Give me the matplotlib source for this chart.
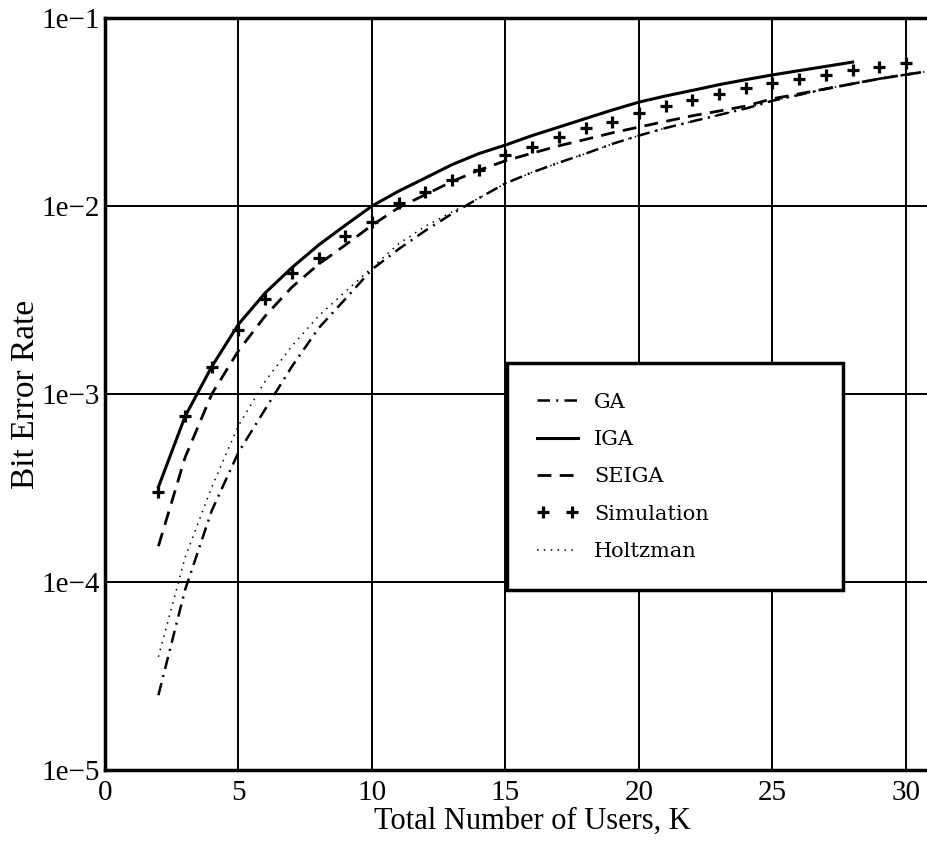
import numpy as np
import matplotlib
matplotlib.use("Agg")
import matplotlib.pyplot as plt
from matplotlib.legend_handler import HandlerLine2D

# values (BER vs number of users K)
k_iga = list(range(2, 29))
ber_iga = [3.2e-4, 7.6e-4, 1.4e-3, 2.35e-3, 3.45e-3, 4.7e-3, 6.2e-3, 7.9e-3,
           1.0e-2, 1.2e-2, 1.41e-2, 1.66e-2, 1.9e-2, 2.11e-2, 2.37e-2,
           2.63e-2, 2.92e-2, 3.24e-2, 3.57e-2, 3.85e-2, 4.12e-2, 4.42e-2,
           4.7e-2, 4.98e-2, 5.25e-2, 5.53e-2, 5.83e-2]

k_seiga = list(range(2, 32))
ber_seiga = [1.55e-4, 4.6e-4, 1.0e-3, 1.7e-3, 2.6e-3, 3.7e-3, 4.9e-3, 6.2e-3,
             7.9e-3, 9.8e-3, 1.15e-2, 1.35e-2, 1.55e-2, 1.74e-2, 1.91e-2,
             2.09e-2, 2.26e-2, 2.45e-2, 2.63e-2, 2.82e-2, 3.02e-2, 3.2e-2,
             3.4e-2, 3.72e-2, 3.95e-2, 4.2e-2, 4.47e-2, 4.75e-2, 5.0e-2,
             5.25e-2]

k_ga = list(range(2, 32))
ber_ga = [2.5e-5, 9.1e-5, 2.4e-4, 4.9e-4, 8.3e-4, 1.4e-3, 2.24e-3, 3.2e-3,
          4.6e-3, 5.9e-3, 7.4e-3, 9.1e-3, 1.1e-2, 1.32e-2, 1.51e-2,
          1.7e-2, 1.9e-2, 2.14e-2, 2.37e-2, 2.6e-2, 2.82e-2, 3.05e-2,
          3.3e-2, 3.63e-2, 3.9e-2, 4.2e-2, 4.47e-2, 4.75e-2, 5.0e-2,
          5.25e-2]

k_holtz = list(range(2, 32))
ber_holtz = [4.0e-5, 1.35e-4, 3.2e-4, 6.8e-4, 1.17e-3, 1.8e-3, 2.6e-3, 3.5e-3,
             4.7e-3, 6.3e-3, 7.8e-3, 9.3e-3, 1.1e-2, 1.32e-2, 1.51e-2,
             1.7e-2, 1.9e-2, 2.14e-2, 2.37e-2, 2.6e-2, 2.82e-2, 3.05e-2,
             3.3e-2, 3.63e-2, 3.9e-2, 4.2e-2, 4.47e-2, 4.75e-2, 5.0e-2,
             5.25e-2]

k_sim = list(range(2, 32))
ber_sim = [3.0e-4, 7.6e-4, 1.4e-3, 2.2e-3, 3.2e-3, 4.4e-3, 5.3e-3, 6.9e-3,
           8.2e-3, 1.04e-2, 1.19e-2, 1.37e-2, 1.55e-2, 1.87e-2, 2.06e-2,
           2.33e-2, 2.6e-2, 2.8e-2, 3.13e-2, 3.4e-2, 3.66e-2, 3.95e-2,
           4.25e-2, 4.5e-2, 4.74e-2, 4.98e-2, 5.28e-2, 5.5e-2, 5.77e-2,
           6.0e-2]

x_ticks = [0, 5, 10, 15, 20, 25, 30]
y_ticks = [1e-5, 1e-4, 1e-3, 1e-2, 1e-1]
y_tick_labels = ["1e\u22125", "1e\u22124", "1e\u22123", "1e\u22122", "1e\u22121"]

plt.rcParams["font.family"] = ["Liberation Serif", "DejaVu Serif"]

fig = plt.figure(figsize=(9.28, 8.43), dpi=100)
# axes runs past the right edge of the picture, like the cropped original
ax = fig.add_axes([105 / 928, 1 - 770 / 843, 32 * 26.7 / 928, 752 / 843])

ax.plot(k_ga, ber_ga, color="black", lw=1.8, ls=(0, (5, 2.5, 0.8, 2.5)), label="GA")
ax.plot(k_iga, ber_iga, color="black", lw=2.2, ls="-", label="IGA")
ax.plot(k_seiga, ber_seiga, color="black", lw=2.0, ls=(0, (5, 3)), label="SEIGA")
sim, = ax.plot(k_sim, ber_sim, ls="none", marker="+", ms=8, mew=2.3,
               color="black", label="Simulation")
ax.plot(k_holtz, ber_holtz, color="black", lw=1.1, ls=(0, (1, 3.5)), label="Holtzman")

ax.set_yscale("log")
ax.set_xlim(0, 32)
ax.set_ylim(1e-5, 1e-1)
ax.set_xticks(x_ticks)
ax.set_yticks(y_ticks)
ax.set_yticklabels(y_tick_labels)
ax.minorticks_off()
ax.tick_params(axis="both", length=0, labelsize=21, colors="black")
ax.tick_params(axis="x", pad=7)
ax.tick_params(axis="y", pad=4)
ax.grid(True, color="black", lw=1.4)
for s in ax.spines.values():
    s.set_linewidth(2.5)

ax.set_xlabel("Total Number of Users, K", fontsize=22, labelpad=1)
ax.set_ylabel("Bit Error Rate", fontsize=24, labelpad=0)

leg = ax.legend(loc="upper left",
                bbox_to_anchor=(507 / 928, 1 - 590 / 843, 336 / 928, 227 / 843),
                bbox_transform=fig.transFigure, mode="expand",
                prop={"family": "DejaVu Serif", "size": 15},
                fancybox=False, framealpha=1, edgecolor="black",
                handlelength=2.0, handletextpad=0.75, labelspacing=0.88,
                borderpad=1.42, borderaxespad=0,
                handler_map={sim: HandlerLine2D(numpoints=2)})
leg.get_frame().set_linewidth(2.5)

fig.savefig("out.png", dpi=100)
